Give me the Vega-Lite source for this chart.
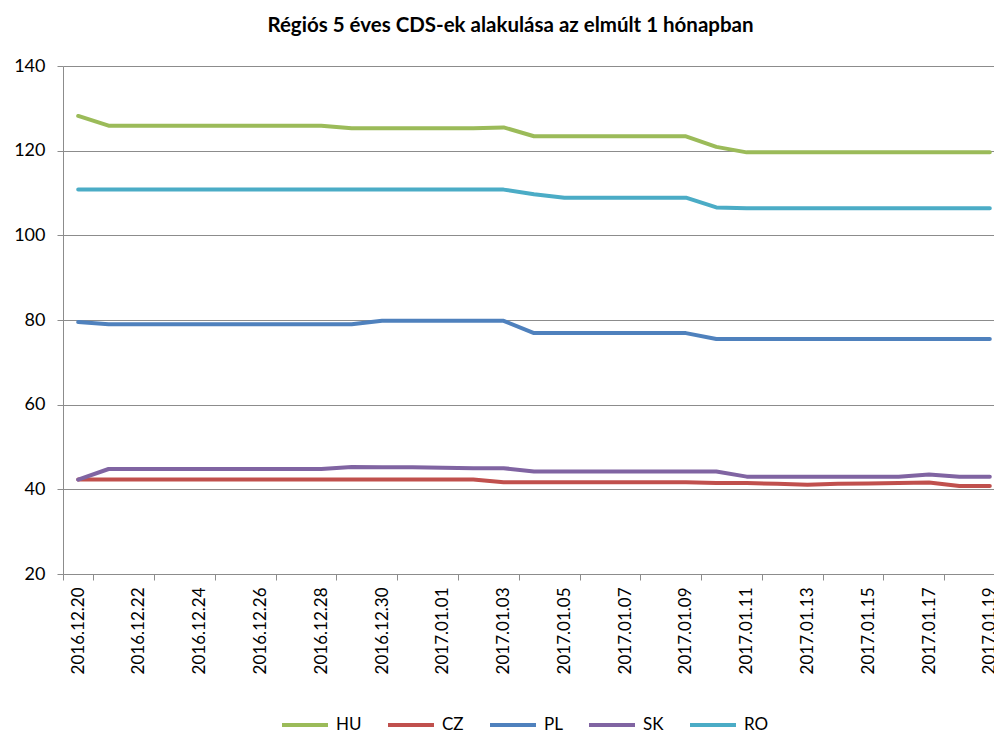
{
  "$schema": "https://vega.github.io/schema/vega-lite/v6.json",
  "autosize": {"type": "none"},
  "width": 931,
  "height": 508,
  "padding": {"left": 63, "top": 66, "right": 0, "bottom": 157},
  "background": "white",
  "title": {"text": "Régiós 5 éves CDS-ek alakulása az elmúlt 1 hónapban", "font": "Lato", "fontSize": 20.5, "fontWeight": "bold", "color": "#000000", "anchor": "middle", "frame": "group", "offset": 21, "dx": -18},
  "config": {"view": {"stroke": null}},
  "datasets": {
    "cds": [
      {"d": "2016.12.20", "c": "HU", "v": 128.2}, {"d": "2016.12.21", "c": "HU", "v": 125.9}, {"d": "2016.12.22", "c": "HU", "v": 125.9}, {"d": "2016.12.23", "c": "HU", "v": 125.9}, {"d": "2016.12.24", "c": "HU", "v": 125.9}, {"d": "2016.12.25", "c": "HU", "v": 125.9}, {"d": "2016.12.26", "c": "HU", "v": 125.9}, {"d": "2016.12.27", "c": "HU", "v": 125.9}, {"d": "2016.12.28", "c": "HU", "v": 125.9}, {"d": "2016.12.29", "c": "HU", "v": 125.3}, {"d": "2016.12.30", "c": "HU", "v": 125.3}, {"d": "2016.12.31", "c": "HU", "v": 125.3}, {"d": "2017.01.01", "c": "HU", "v": 125.3}, {"d": "2017.01.02", "c": "HU", "v": 125.3}, {"d": "2017.01.03", "c": "HU", "v": 125.5}, {"d": "2017.01.04", "c": "HU", "v": 123.4}, {"d": "2017.01.05", "c": "HU", "v": 123.4}, {"d": "2017.01.06", "c": "HU", "v": 123.4}, {"d": "2017.01.07", "c": "HU", "v": 123.4}, {"d": "2017.01.08", "c": "HU", "v": 123.4}, {"d": "2017.01.09", "c": "HU", "v": 123.4}, {"d": "2017.01.10", "c": "HU", "v": 120.9}, {"d": "2017.01.11", "c": "HU", "v": 119.6}, {"d": "2017.01.12", "c": "HU", "v": 119.6}, {"d": "2017.01.13", "c": "HU", "v": 119.6}, {"d": "2017.01.14", "c": "HU", "v": 119.6}, {"d": "2017.01.15", "c": "HU", "v": 119.6}, {"d": "2017.01.16", "c": "HU", "v": 119.6}, {"d": "2017.01.17", "c": "HU", "v": 119.6}, {"d": "2017.01.18", "c": "HU", "v": 119.6}, {"d": "2017.01.19", "c": "HU", "v": 119.6},
      {"d": "2016.12.20", "c": "CZ", "v": 42.3}, {"d": "2016.12.21", "c": "CZ", "v": 42.3}, {"d": "2016.12.22", "c": "CZ", "v": 42.3}, {"d": "2016.12.23", "c": "CZ", "v": 42.3}, {"d": "2016.12.24", "c": "CZ", "v": 42.3}, {"d": "2016.12.25", "c": "CZ", "v": 42.3}, {"d": "2016.12.26", "c": "CZ", "v": 42.3}, {"d": "2016.12.27", "c": "CZ", "v": 42.3}, {"d": "2016.12.28", "c": "CZ", "v": 42.3}, {"d": "2016.12.29", "c": "CZ", "v": 42.3}, {"d": "2016.12.30", "c": "CZ", "v": 42.3}, {"d": "2016.12.31", "c": "CZ", "v": 42.3}, {"d": "2017.01.01", "c": "CZ", "v": 42.3}, {"d": "2017.01.02", "c": "CZ", "v": 42.3}, {"d": "2017.01.03", "c": "CZ", "v": 41.7}, {"d": "2017.01.04", "c": "CZ", "v": 41.7}, {"d": "2017.01.05", "c": "CZ", "v": 41.7}, {"d": "2017.01.06", "c": "CZ", "v": 41.7}, {"d": "2017.01.07", "c": "CZ", "v": 41.7}, {"d": "2017.01.08", "c": "CZ", "v": 41.7}, {"d": "2017.01.09", "c": "CZ", "v": 41.7}, {"d": "2017.01.10", "c": "CZ", "v": 41.5}, {"d": "2017.01.11", "c": "CZ", "v": 41.5}, {"d": "2017.01.12", "c": "CZ", "v": 41.3}, {"d": "2017.01.13", "c": "CZ", "v": 41.1}, {"d": "2017.01.14", "c": "CZ", "v": 41.3}, {"d": "2017.01.15", "c": "CZ", "v": 41.4}, {"d": "2017.01.16", "c": "CZ", "v": 41.5}, {"d": "2017.01.17", "c": "CZ", "v": 41.6}, {"d": "2017.01.18", "c": "CZ", "v": 40.8}, {"d": "2017.01.19", "c": "CZ", "v": 40.8},
      {"d": "2016.12.20", "c": "PL", "v": 79.5}, {"d": "2016.12.21", "c": "PL", "v": 79.0}, {"d": "2016.12.22", "c": "PL", "v": 79.0}, {"d": "2016.12.23", "c": "PL", "v": 79.0}, {"d": "2016.12.24", "c": "PL", "v": 79.0}, {"d": "2016.12.25", "c": "PL", "v": 79.0}, {"d": "2016.12.26", "c": "PL", "v": 79.0}, {"d": "2016.12.27", "c": "PL", "v": 79.0}, {"d": "2016.12.28", "c": "PL", "v": 79.0}, {"d": "2016.12.29", "c": "PL", "v": 79.0}, {"d": "2016.12.30", "c": "PL", "v": 79.8}, {"d": "2016.12.31", "c": "PL", "v": 79.8}, {"d": "2017.01.01", "c": "PL", "v": 79.8}, {"d": "2017.01.02", "c": "PL", "v": 79.8}, {"d": "2017.01.03", "c": "PL", "v": 79.8}, {"d": "2017.01.04", "c": "PL", "v": 76.9}, {"d": "2017.01.05", "c": "PL", "v": 76.9}, {"d": "2017.01.06", "c": "PL", "v": 76.9}, {"d": "2017.01.07", "c": "PL", "v": 76.9}, {"d": "2017.01.08", "c": "PL", "v": 76.9}, {"d": "2017.01.09", "c": "PL", "v": 76.9}, {"d": "2017.01.10", "c": "PL", "v": 75.5}, {"d": "2017.01.11", "c": "PL", "v": 75.5}, {"d": "2017.01.12", "c": "PL", "v": 75.5}, {"d": "2017.01.13", "c": "PL", "v": 75.5}, {"d": "2017.01.14", "c": "PL", "v": 75.5}, {"d": "2017.01.15", "c": "PL", "v": 75.5}, {"d": "2017.01.16", "c": "PL", "v": 75.5}, {"d": "2017.01.17", "c": "PL", "v": 75.5}, {"d": "2017.01.18", "c": "PL", "v": 75.5}, {"d": "2017.01.19", "c": "PL", "v": 75.5},
      {"d": "2016.12.20", "c": "SK", "v": 42.3}, {"d": "2016.12.21", "c": "SK", "v": 44.8}, {"d": "2016.12.22", "c": "SK", "v": 44.8}, {"d": "2016.12.23", "c": "SK", "v": 44.8}, {"d": "2016.12.24", "c": "SK", "v": 44.8}, {"d": "2016.12.25", "c": "SK", "v": 44.8}, {"d": "2016.12.26", "c": "SK", "v": 44.8}, {"d": "2016.12.27", "c": "SK", "v": 44.8}, {"d": "2016.12.28", "c": "SK", "v": 44.8}, {"d": "2016.12.29", "c": "SK", "v": 45.3}, {"d": "2016.12.30", "c": "SK", "v": 45.2}, {"d": "2016.12.31", "c": "SK", "v": 45.2}, {"d": "2017.01.01", "c": "SK", "v": 45.1}, {"d": "2017.01.02", "c": "SK", "v": 45.0}, {"d": "2017.01.03", "c": "SK", "v": 45.0}, {"d": "2017.01.04", "c": "SK", "v": 44.2}, {"d": "2017.01.05", "c": "SK", "v": 44.2}, {"d": "2017.01.06", "c": "SK", "v": 44.2}, {"d": "2017.01.07", "c": "SK", "v": 44.2}, {"d": "2017.01.08", "c": "SK", "v": 44.2}, {"d": "2017.01.09", "c": "SK", "v": 44.2}, {"d": "2017.01.10", "c": "SK", "v": 44.2}, {"d": "2017.01.11", "c": "SK", "v": 43.0}, {"d": "2017.01.12", "c": "SK", "v": 43.0}, {"d": "2017.01.13", "c": "SK", "v": 43.0}, {"d": "2017.01.14", "c": "SK", "v": 43.0}, {"d": "2017.01.15", "c": "SK", "v": 43.0}, {"d": "2017.01.16", "c": "SK", "v": 43.0}, {"d": "2017.01.17", "c": "SK", "v": 43.5}, {"d": "2017.01.18", "c": "SK", "v": 43.0}, {"d": "2017.01.19", "c": "SK", "v": 43.0},
      {"d": "2016.12.20", "c": "RO", "v": 110.8}, {"d": "2016.12.21", "c": "RO", "v": 110.8}, {"d": "2016.12.22", "c": "RO", "v": 110.8}, {"d": "2016.12.23", "c": "RO", "v": 110.8}, {"d": "2016.12.24", "c": "RO", "v": 110.8}, {"d": "2016.12.25", "c": "RO", "v": 110.8}, {"d": "2016.12.26", "c": "RO", "v": 110.8}, {"d": "2016.12.27", "c": "RO", "v": 110.8}, {"d": "2016.12.28", "c": "RO", "v": 110.8}, {"d": "2016.12.29", "c": "RO", "v": 110.8}, {"d": "2016.12.30", "c": "RO", "v": 110.8}, {"d": "2016.12.31", "c": "RO", "v": 110.8}, {"d": "2017.01.01", "c": "RO", "v": 110.8}, {"d": "2017.01.02", "c": "RO", "v": 110.8}, {"d": "2017.01.03", "c": "RO", "v": 110.8}, {"d": "2017.01.04", "c": "RO", "v": 109.7}, {"d": "2017.01.05", "c": "RO", "v": 108.9}, {"d": "2017.01.06", "c": "RO", "v": 108.9}, {"d": "2017.01.07", "c": "RO", "v": 108.9}, {"d": "2017.01.08", "c": "RO", "v": 108.9}, {"d": "2017.01.09", "c": "RO", "v": 108.9}, {"d": "2017.01.10", "c": "RO", "v": 106.6}, {"d": "2017.01.11", "c": "RO", "v": 106.4}, {"d": "2017.01.12", "c": "RO", "v": 106.4}, {"d": "2017.01.13", "c": "RO", "v": 106.4}, {"d": "2017.01.14", "c": "RO", "v": 106.4}, {"d": "2017.01.15", "c": "RO", "v": 106.4}, {"d": "2017.01.16", "c": "RO", "v": 106.4}, {"d": "2017.01.17", "c": "RO", "v": 106.4}, {"d": "2017.01.18", "c": "RO", "v": 106.4}, {"d": "2017.01.19", "c": "RO", "v": 106.4}
    ]
  },
  "data": {"name": "cds"},
  "mark": {"type": "line", "strokeWidth": 4, "strokeCap": "round", "strokeJoin": "round"},
  "encoding": {
    "x": {
      "field": "d", "type": "ordinal", "bandPosition": 0.5,
      "scale": {"type": "band", "range": [0, 942], "paddingInner": 0, "paddingOuter": 0},
      "axis": {
        "title": null,
        "values": ["2016.12.20", "2016.12.22", "2016.12.24", "2016.12.26", "2016.12.28", "2016.12.30", "2017.01.01", "2017.01.03", "2017.01.05", "2017.01.07", "2017.01.09", "2017.01.11", "2017.01.13", "2017.01.15", "2017.01.17", "2017.01.19"],
        "tickBand": "extent",
        "labelAngle": 270,
        "labelAlign": "right",
        "labelBaseline": "middle",
        "labelFont": "Lato",
        "labelFontSize": 17,
        "labelColor": "#000000",
        "labelPadding": 7,
        "labelOverlap": false,
        "labelBound": false,
        "tickSize": 6,
        "tickColor": "#8C8C8C",
        "domainColor": "#8C8C8C",
        "grid": false
      }
    },
    "y": {
      "field": "v", "type": "quantitative",
      "scale": {"domain": [20, 140], "nice": false, "zero": false},
      "axis": {
        "title": null,
        "values": [20, 40, 60, 80, 100, 120, 140],
        "grid": true,
        "gridColor": "#8C8C8C",
        "gridWidth": 1,
        "tickSize": 6,
        "tickColor": "#8C8C8C",
        "domainColor": "#8C8C8C",
        "labelFont": "Lato",
        "labelFontSize": 18,
        "labelColor": "#000000",
        "labelPadding": 12
      }
    },
    "color": {
      "field": "c", "type": "nominal",
      "scale": {"domain": ["HU", "CZ", "PL", "SK", "RO"], "range": ["#9BBB59", "#C0504D", "#4F81BD", "#8064A2", "#4BACC6"]},
      "legend": {
        "orient": "none",
        "legendX": 217,
        "legendY": 634,
        "direction": "horizontal",
        "title": null,
        "symbolType": "stroke",
        "symbolSize": 2116,
        "symbolStrokeWidth": 4,
        "labelFont": "Lato",
        "labelFontSize": 17,
        "labelColor": "#000000",
        "labelOffset": 6,
        "columnPadding": 18
      }
    }
  }
}
